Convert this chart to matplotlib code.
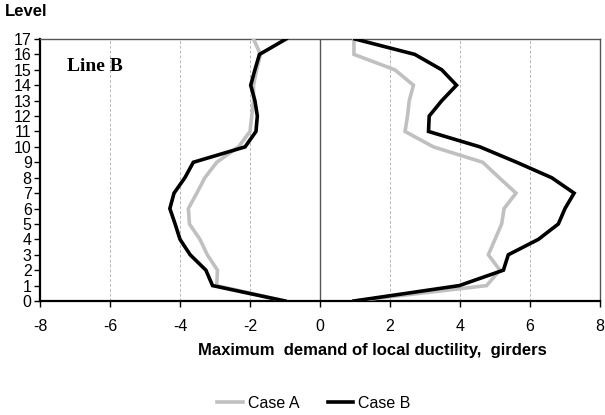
import matplotlib
matplotlib.use("Agg")
import matplotlib.pyplot as plt
from matplotlib.lines import Line2D

levels = list(range(0, 18))
caseA_neg = [-1.0, -2.95, -2.93, -3.22, -3.43, -3.73, -3.76, -3.52, -3.29, -2.95,
             -2.33, -2.0, -1.95, -1.9, -1.9, -1.81, -1.70, -1.9]
caseB_neg = [-1.0, -3.07, -3.26, -3.71, -4.0, -4.14, -4.29, -4.17, -3.86, -3.62,
             -2.14, -1.83, -1.79, -1.86, -1.98, -1.86, -1.73, -0.97]
caseA_pos = [0.97, 4.76, 5.14, 4.81, 5.0, 5.19, 5.26, 5.6, 5.12, 4.65,
             3.24, 2.43, 2.50, 2.55, 2.67, 2.14, 0.97, 0.97]
caseB_pos = [0.97, 3.98, 5.24, 5.38, 6.24, 6.81, 7.0, 7.26, 6.62, 5.62,
             4.57, 3.10, 3.12, 3.48, 3.90, 3.48, 2.71, 1.0]
xticks = [-8, -6, -4, -2, 0, 2, 4, 6, 8]

plt.rcParams['font.family'] = ['Liberation Sans', 'DejaVu Sans']

fig = plt.figure(figsize=(6.05, 4.15), dpi=100)
ax = fig.add_axes([40/605, 1-301/415, 560/605, 262/415])

grayc = '#c0c0c0'
for xv in [-6, -4, -2, 2, 4, 6]:
    ax.axvline(xv, color='#b8b8b8', lw=0.7, ls=(0, (3, 2)), zorder=1)
ax.axvline(0, color='#555555', lw=1.0, zorder=1)

lw = 2.6
ax.plot(caseA_neg, levels, color=grayc, lw=lw, zorder=3, solid_joinstyle='miter')
ax.plot(caseA_pos, levels, color=grayc, lw=lw, zorder=3, solid_joinstyle='miter')
ax.plot(caseB_neg, levels, color='black', lw=lw, zorder=4, solid_joinstyle='miter')
ax.plot(caseB_pos, levels, color='black', lw=lw, zorder=4, solid_joinstyle='miter')

ax.set_xlim(-8, 8)
ax.set_ylim(0, 17)
ax.set_xticks(xticks)
ax.set_xticklabels([str(v) for v in xticks])
ax.set_yticks(levels)
ax.tick_params(axis='both', labelsize=11.5, length=4, width=1, direction='out', pad=2)
ax.tick_params(axis='x', pad=9)

for s in ['left', 'bottom']:
    ax.spines[s].set_linewidth(1.6)
    ax.spines[s].set_color('black')
for s in ['top', 'right']:
    ax.spines[s].set_linewidth(1.0)
    ax.spines[s].set_color('#555555')

ax.text(-7.22, 15.2, 'Line B', family=['Liberation Serif', 'DejaVu Serif'],
        fontsize=14, fontweight='bold', va='center', ha='left')

fig.text(5/605, 1-12/415, 'Level', fontsize=12, fontweight='bold', ha='left', va='center')
fig.text(372/605, 1-350/415, 'Maximum  demand of local ductility,  girders',
         fontsize=12, fontweight='bold', ha='center', va='center')

handles = [Line2D([0], [0], color=grayc, lw=lw), Line2D([0], [0], color='black', lw=lw)]
fig.legend(handles, ['Case A', 'Case B'], loc='center', bbox_to_anchor=(314/605, 1-403/415),
           ncol=2, frameon=False, fontsize=11.5, handlelength=1.6, handletextpad=0.3,
           columnspacing=1.8)

fig.savefig('out.png', dpi=100)
